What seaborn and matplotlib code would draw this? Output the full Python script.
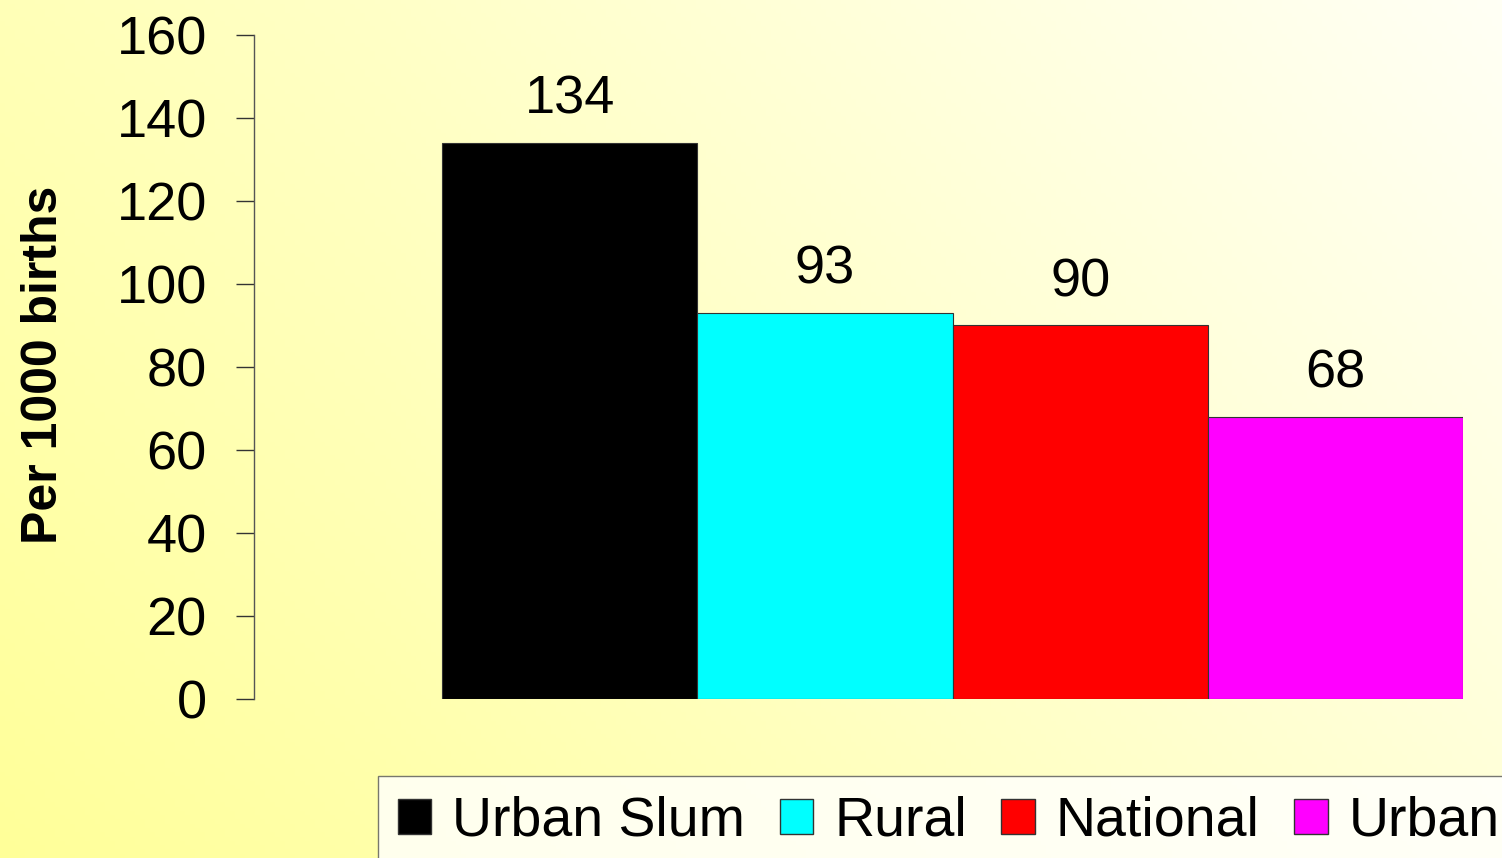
import numpy as np
import pandas as pd
import matplotlib
matplotlib.use('Agg')
import matplotlib.pyplot as plt
import matplotlib.patches as mpatches
import seaborn as sns

# Data
categories = ['Urban Slum', 'Rural', 'National', 'Urban']
values = [134, 93, 90, 68]
colors = ['#000000', '#00FFFF', '#FF0000', '#FF00FF']
yticks = [0, 20, 40, 60, 80, 100, 120, 140, 160]

df = pd.DataFrame({'Area': categories, 'Rate': values})

sns.set_style('white')
plt.rcParams['font.family'] = ['Liberation Sans', 'DejaVu Sans']
plt.rcParams['text.color'] = 'black'
plt.rcParams['ytick.color'] = 'black'

fig = plt.figure(figsize=(15.02, 8.58), dpi=100)

# gradient background: yellow bottom-left -> near white top-right
bg = fig.add_axes([0, 0, 1, 1], zorder=-10)
gx, gy = np.meshgrid(np.linspace(0, 1, 300), np.linspace(1, 0, 200))
t = np.clip((gx * 0.8 + gy * 0.4) / 1.2, 0, 1)
c0 = np.array([255, 255, 153]) / 255
c1 = np.array([255, 255, 245]) / 255
img = c0[None, None, :] * (1 - t[..., None]) + c1[None, None, :] * t[..., None]
bg.imshow(img, aspect='auto', extent=[0, 1, 0, 1])
bg.axis('off')

ax = fig.add_axes([254 / 1502, 1 - 699 / 858, (1463 - 254) / 1502, (699 - 35) / 858])
ax.set_facecolor('none')
sns.barplot(data=df, x='Area', y='Rate', hue='Area', palette=colors, width=1.0,
            saturation=1, edgecolor='#333333', linewidth=0.8, legend=False, ax=ax)

ax.set_xlim(-1.237, 3.5)
ax.set_ylim(0, 160)
ax.set_yticks(yticks)
ax.set_yticklabels([str(v) for v in yticks], fontsize=39)
ax.tick_params(axis='y', length=13, width=1, color='#333333', pad=21, left=True,
               labelcolor='black')
ax.tick_params(axis='x', bottom=False, labelbottom=False)
ax.set_xlabel('')
ax.set_ylabel('')
for s in ['top', 'right', 'bottom']:
    ax.spines[s].set_visible(False)
ax.spines['left'].set_color('#555555')
ax.spines['left'].set_linewidth(1)

fig.text(44 / 1502, 1 - 365 / 858, 'Per 1000 births', rotation=90, ha='center',
         va='center', fontsize=36, fontweight='bold')

for i, v in enumerate(values):
    ax.annotate(str(v), (i, v), xytext=(0, 13), textcoords='offset points',
                ha='center', va='bottom', fontsize=39)

handles = [mpatches.Patch(facecolor=c, edgecolor='#333333', label=l)
           for c, l in zip(colors, categories)]
leg = fig.legend(handles=handles, loc='upper left', bbox_to_anchor=(378 / 1502, 1 - 776 / 858),
                 ncol=4, fontsize=40, frameon=True, fancybox=False, handlelength=0.6,
                 handleheight=0.6, handletextpad=0.38, columnspacing=0.62,
                 borderpad=0.36, borderaxespad=0)
leg.get_frame().set_edgecolor('#555555')
leg.get_frame().set_linewidth(1)
leg.get_frame().set_facecolor('white')

fig.savefig('out.png', dpi=100)
